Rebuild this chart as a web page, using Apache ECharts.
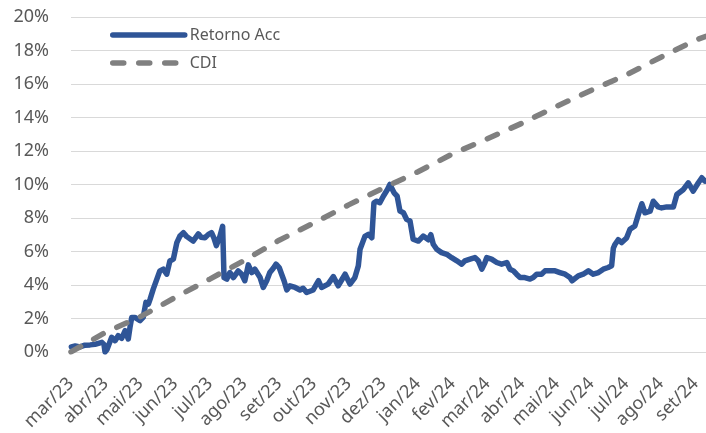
<!DOCTYPE html>
<html><head><meta charset="utf-8">
<script src="https://cdn.jsdelivr.net/npm/echarts@6/dist/echarts.min.js"></script>
<style>html,body{margin:0;padding:0;background:#fff}#c{width:706px;height:433px}</style>
</head><body><div id="c"></div>
<script>
// Month tick labels (one per month, starting mar/23)
const monthLabels = ['mar/23','abr/23','mai/23','jun/23','jul/23','ago/23','set/23','out/23','nov/23','dez/23',
  'jan/24','fev/24','mar/24','abr/24','mai/24','jun/24','jul/24','ago/24','set/24'];
const xMax = 18.3; // last observation, in months since start of mar/23

// Retorno Acc: time (months since start of mar/23) and accumulated return (%)
const retornoT = [0.01,0.12,0.26,0.40,0.55,0.69,0.89,0.95,0.98,1.04,
  1.17,1.27,1.36,1.46,1.56,1.65,1.70,1.75,1.84,1.99,
  2.08,2.16,2.23,2.28,2.37,2.49,2.56,2.66,2.76,2.85,
  2.95,3.05,3.14,3.24,3.33,3.43,3.52,3.67,3.75,3.86,
  3.96,4.05,4.12,4.19,4.29,4.37,4.41,4.49,4.58,4.68,
  4.82,4.92,5.01,5.11,5.21,5.30,5.45,5.54,5.64,5.73,
  5.83,5.91,6.00,6.07,6.14,6.22,6.31,6.46,6.60,6.69,
  6.79,6.98,7.13,7.22,7.41,7.56,7.70,7.90,8.04,8.18,
  8.28,8.33,8.47,8.57,8.67,8.73,8.81,8.90,9.00,9.12,
  9.19,9.31,9.40,9.48,9.58,9.67,9.77,9.86,10.01,10.15,
  10.30,10.37,10.44,10.54,10.68,10.83,10.97,11.12,11.26,11.35,
  11.50,11.64,11.74,11.84,11.93,11.98,12.12,12.27,12.41,12.56,
  12.65,12.75,12.84,12.94,13.08,13.23,13.32,13.42,13.56,13.66,
  13.80,13.95,14.09,14.24,14.38,14.44,14.62,14.76,14.91,15.05,
  15.20,15.34,15.48,15.58,15.63,15.68,15.77,15.87,16.01,16.11,
  16.25,16.35,16.45,16.54,16.69,16.78,16.92,17.02,17.17,17.36,
  17.46,17.65,17.79,17.93,18.08,18.18,18.27];
const retornoAcc = [0.30,0.35,0.30,0.40,0.42,0.45,0.57,0.45,0.00,0.15,
  0.87,0.67,0.97,0.81,1.27,0.77,1.47,2.06,2.06,1.87,
  2.06,2.96,2.86,3.15,3.75,4.44,4.84,4.94,4.64,5.43,
  5.54,6.53,6.92,7.12,6.90,6.75,6.62,7.05,6.85,6.82,
  7.02,7.12,6.80,6.35,6.90,7.50,4.44,4.35,4.74,4.44,
  4.84,4.64,4.25,5.20,4.74,4.94,4.44,3.85,4.25,4.74,
  5.00,5.24,5.04,4.64,4.25,3.70,3.95,3.85,3.70,3.80,
  3.55,3.70,4.25,3.85,4.05,4.50,3.95,4.64,4.05,4.44,
  5.14,6.13,6.90,7.02,6.82,8.90,9.00,8.91,9.30,9.70,
  10.00,9.50,9.30,8.41,8.31,7.92,7.82,6.73,6.62,6.92,
  6.70,7.00,6.43,6.13,5.93,5.83,5.63,5.44,5.24,5.44,
  5.54,5.63,5.44,4.94,5.34,5.63,5.54,5.34,5.24,5.34,
  4.94,4.84,4.64,4.44,4.44,4.35,4.44,4.64,4.64,4.84,
  4.84,4.84,4.74,4.64,4.44,4.25,4.54,4.64,4.84,4.64,
  4.74,4.94,5.04,5.14,6.20,6.43,6.70,6.53,6.80,7.32,
  7.52,8.20,8.85,8.31,8.41,9.00,8.66,8.60,8.66,8.66,
  9.40,9.70,10.10,9.60,10.10,10.40,10.20];

// CDI accumulated (%) at month starts, plus last observation
const cdiT = [0,1,2,3,4,5,6,7,8,9,10,11,12,13,14,15,16,17,18,18.3];
const cdi = [0,1.17,2.10,3.25,4.35,5.47,6.67,7.70,8.78,9.78,10.76,11.83,12.73,13.66,14.67,15.63,16.54,17.60,18.62,18.85];

// Y axis ticks (%)
const yMin = 0, yMax = 20, yStep = 2;

const FONT = 'Noto Sans';
const chart = echarts.init(document.getElementById('c'));
chart.setOption({
  animation: false,
  backgroundColor: '#ffffff',
  grid: {left: 71, right: 0, top: 17, bottom: 80, containLabel: false},
  legend: {
    orient: 'vertical', left: 110, top: 27, padding: 0,
    itemWidth: 72, itemHeight: 16, itemGap: 12,
    lineStyle: {width: 5.5, cap: 'round'},
    itemStyle: {color: 'rgba(0,0,0,0)', borderWidth: 0, opacity: 0},
    textStyle: {fontSize: 16, color: '#595959', fontFamily: FONT, lineHeight: 16},
    data: ['Retorno Acc', 'CDI']
  },
  xAxis: {
    type: 'value', min: 0, max: xMax, interval: 1,
    axisLine: {show: false}, axisTick: {show: false}, splitLine: {show: false},
    axisLabel: {
      rotate: 45, margin: 29, fontSize: 18, color: '#595959', fontFamily: FONT,
      showMaxLabel: false,
      formatter: function (v) {
        const r = Math.round(v);
        return Math.abs(v - r) < 1e-6 && monthLabels[r] ? monthLabels[r] : '';
      }
    }
  },
  yAxis: {
    type: 'value', min: yMin, max: yMax, interval: yStep,
    axisLine: {show: false}, axisTick: {show: false},
    splitLine: {lineStyle: {color: '#D9D9D9', width: 1.2}},
    axisLabel: {formatter: '{value}%', margin: 22, fontSize: 18, color: '#595959', fontFamily: FONT}
  },
  series: [
    {
      name: 'Retorno Acc', type: 'line', symbol: 'none',
      data: retornoT.map((t, i) => [t, retornoAcc[i]]),
      itemStyle: {color: '#2F5597'},
      lineStyle: {color: '#2F5597', width: 5.5, join: 'round', cap: 'round'}
    },
    {
      name: 'CDI', type: 'line', symbol: 'none',
      data: cdiT.map((t, i) => [t, cdi[i]]),
      itemStyle: {color: '#808080'},
      lineStyle: {color: '#808080', width: 5.5, type: [11, 15], cap: 'round'}
    }
  ]
});
</script>
</body></html>
